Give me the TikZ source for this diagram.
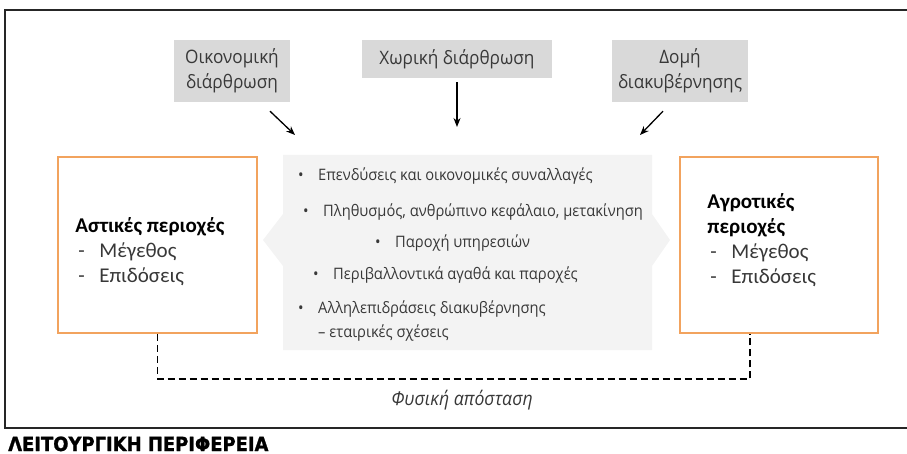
\documentclass[tikz,border=0pt]{standalone}
\usepackage{fontspec}
\setmainfont{Carlito}
\newfontfamily\listfont[FakeStretch=0.93]{Open Sans}
\newfontfamily\headfont[FakeStretch=0.92,FakeBold=1.2]{DejaVu Sans}
\usepackage{tikz}
\usetikzlibrary{calc,arrows.meta}
\definecolor{boxgray}{HTML}{D9D9D9}
\definecolor{panelgray}{HTML}{F3F3F3}
\definecolor{regorange}{HTML}{F2A35E}
\definecolor{txtgray}{HTML}{383838}

\begin{document}
\begin{tikzpicture}[x=1pt,y=-1pt,>={Stealth[length=9pt,width=7pt]}]
\useasboundingbox (0,0) rectangle (907,454);
\draw[line width=1.6pt,black!85] (912,10) -- (5,10) -- (5,428) -- (912,428);
\fill[panelgray] (283,155) -- (652,155) -- (652,214) -- (670,240) -- (652,266) -- (652,350) -- (283,350) -- (283,266) -- (263,240) -- (283,214) -- cycle;
\node[fill=boxgray,minimum width=116,minimum height=62,align=center,text=txtgray,font=\listfont\fontsize{18.5}{25}\selectfont] (eco) at (232,71) {Οικονομική\\διάρθρωση};
\node[fill=boxgray,minimum width=190,minimum height=38,align=center,text=txtgray,font=\listfont\fontsize{18.5}{25}\selectfont] (spat) at (457,59) {Χωρική διάρθρωση};
\node[fill=boxgray,minimum width=136,minimum height=62,align=center,text=txtgray,font=\listfont\fontsize{18.5}{25}\selectfont] (gov) at (680,71) {Δομή\\διακυβέρνησης};
\coordinate (ecotip) at (295,135);
\coordinate (spattip) at (457,127);
\coordinate (govtip) at (640,135);
\draw[line width=1.3pt,->] ([xshift=38pt,yshift=-9pt]eco.south) -- (ecotip);
\draw[line width=1.3pt,->] ([yshift=-4pt]spat.south) -- (spattip);
\draw[line width=1.3pt,->] ([xshift=-17pt,yshift=-9pt]gov.south) -- (govtip);
\node[draw=regorange,line width=1.6pt,minimum width=199,minimum height=176] (urban) at (157.5,245) {};
\node[draw=regorange,line width=1.6pt,minimum width=198,minimum height=176] (rural) at (779,245) {};
\node[anchor=west,align=left,inner sep=0pt,text=txtgray,font=\fontsize{21}{25}\selectfont] (urbantxt) at ([xshift=18pt,yshift=-7pt]urban.west) {{\color{black}\bfseries Αστικές περιοχές}\\ \hspace*{3pt}\makebox[21pt][l]{-}Μέγεθος\\ \hspace*{3pt}\makebox[21pt][l]{-}Επιδόσεις};
\node[anchor=west,align=left,inner sep=0pt,text=txtgray,font=\fontsize{21}{25}\selectfont] (ruraltxt) at ([xshift=28pt,yshift=5pt]rural.west) {{\color{black}\bfseries Αγροτικές}\\ {\color{black}\bfseries περιοχές}\\ \hspace*{3pt}\makebox[21pt][l]{-}Μέγεθος\\ \hspace*{3pt}\makebox[21pt][l]{-}Επιδόσεις};
\foreach \tx/\by/\txt [count=\i] in {318/176/{Επενδύσεις και οικονομικές συναλλαγές}, 323/212/{Πληθυσμός, ανθρώπινο κεφάλαιο, μετακίνηση}, 395/243/{Παροχή υπηρεσιών}, 333/275/{Περιβαλλοντικά αγαθά και παροχές}, 318/309/{Αλληλεπιδράσεις διακυβέρνησης}}
\node[anchor=west,inner sep=0pt,text=txtgray,font=\listfont\fontsize{15.8}{20}\selectfont] (item\i) at (\tx-20,\by) {\makebox[20pt][l]{\textbullet}\txt};
\node[anchor=west,inner sep=0pt,text=txtgray,font=\listfont\fontsize{15.8}{20}\selectfont] (item6) at (318,333) {– εταιρικές σχέσεις};
\draw[line width=1.5pt,dash pattern=on 7pt off 4pt] (urban.south) -- ++(0,45) -| ([xshift=-29pt]rural.south);
\node[text=txtgray,font=\listfont\itshape\fontsize{19}{22}\selectfont] (dist) at (462,400) {Φυσική απόσταση};
\node[anchor=base west,inner sep=0pt,font=\headfont\bfseries\fontsize{19.5}{20}\selectfont] (title) at (8,451) {ΛΕΙΤΟΥΡΓΙΚΗ ΠΕΡΙΦΕΡΕΙΑ};
\end{tikzpicture}
\end{document}
